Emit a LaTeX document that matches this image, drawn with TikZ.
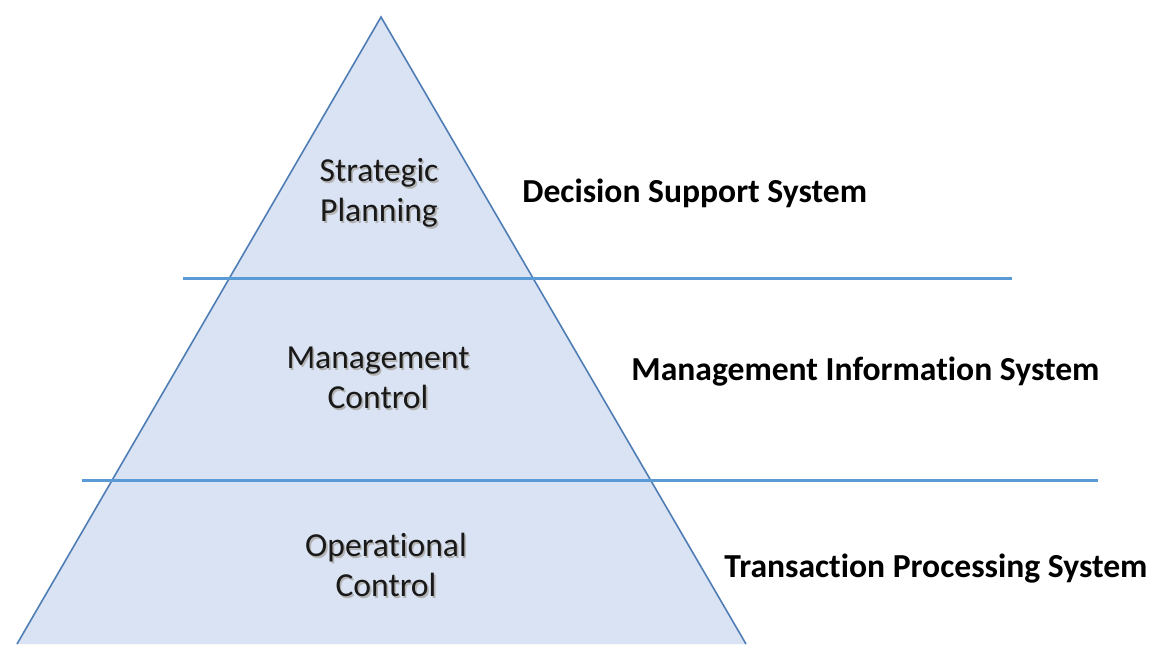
\documentclass[tikz,border=0pt]{standalone}
\usepackage{fontspec}
\setmainfont{Carlito}[Ligatures=NoCommon]
\usepackage{xcolor}
\usetikzlibrary{positioning}
\definecolor{layerfill}{HTML}{DAE3F3}
\definecolor{layeredge}{HTML}{4F7DB5}
\definecolor{sepline}{HTML}{5B9BD5}

\begin{document}
\begin{tikzpicture}[x=0.5pt,y=-0.5pt]
    \tikzstyle{level}=[text=black!90,font=\fontsize{16.8}{20}\selectfont,align=center]
    \tikzstyle{level shadow}=[level,text=black!30,xshift=0.8pt,yshift=-0.8pt]
    \tikzstyle{system}=[anchor=west,font=\fontsize{16.8}{20}\selectfont\bfseries,inner sep=0pt]
    \tikzstyle{separator}=[draw=sepline,line width=1.5pt]

    \useasboundingbox (0,0) rectangle (1176,644);

    % Draw the pyramid
    \coordinate (apex) at (381,17);
    \coordinate (base-l) at (17,644);
    \coordinate (base-r) at (746,644);
    \fill[layerfill] (apex) -- (base-l) -- (base-r) -- cycle;
    \draw[layeredge,line width=0.8pt] (base-l) -- (apex) -- (base-r);

    % Draw the separators
    \coordinate (S-1a) at (183,278);
    \coordinate (S-1b) at (1012,278);
    \coordinate (S-2a) at (82,480);
    \coordinate (S-2b) at (1098,480);
    \draw[separator] (S-1a) -- (S-1b);
    \draw[separator] (S-2a) -- (S-2b);

    % Annotate the levels (shadow first)
    \node[level shadow] (L-1s) at (379,193) {Strategic\\Planning};
    \node[level shadow] (L-2s) at (378,378) {Management\\Control};
    \node[level shadow] (L-3s) at (386,565) {Operational\\Control};
    \node[level] (L-1) at (379,193) {Strategic\\Planning};
    \node[level] (L-2) at (378,378) {Management\\Control};
    \node[level] (L-3) at (386,565) {Operational\\Control};

    % Annotate the systems
    \node[system] (T-1) at (522,193) {Decision Support System};
    \node[system] (T-2) at (631,372) {Management Information System};
    \node[system] (T-3) at (724,569) {Transaction Processing System};
\end{tikzpicture}
\end{document}
